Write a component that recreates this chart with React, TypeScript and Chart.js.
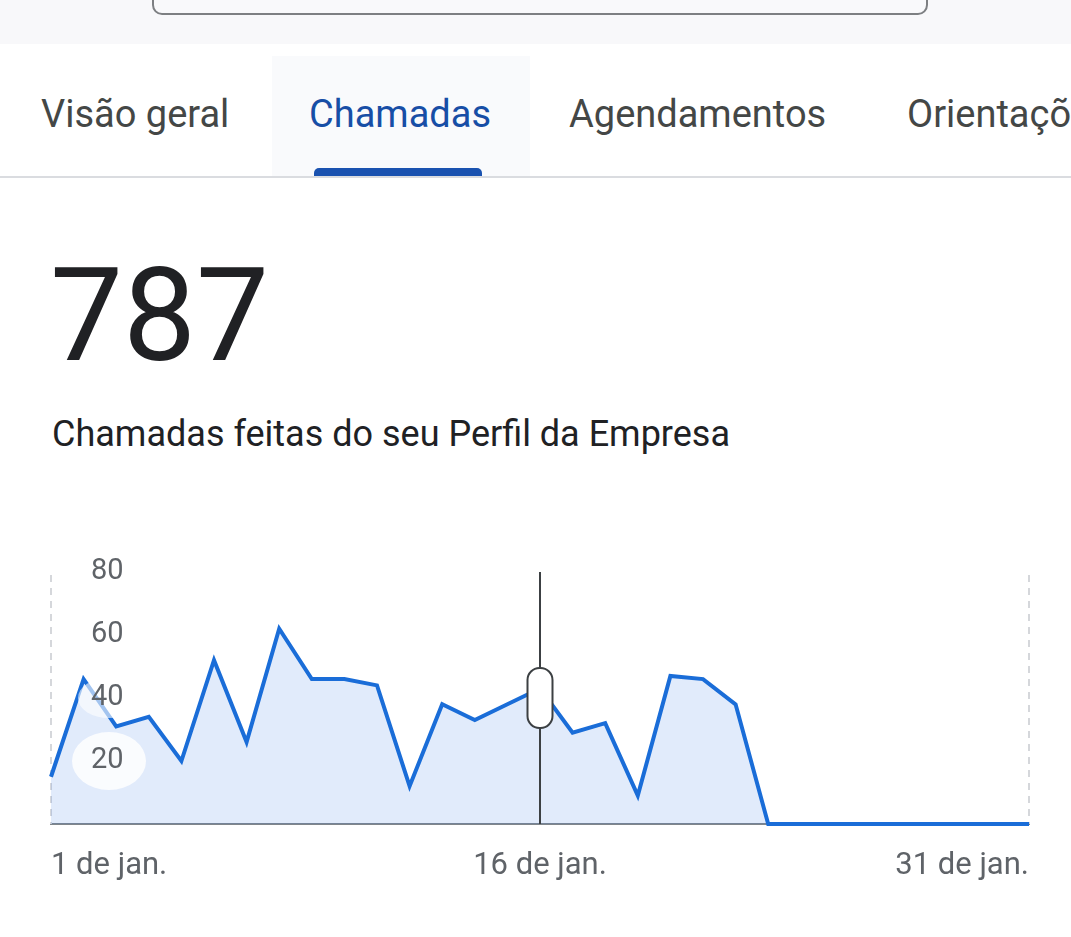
import React, { useEffect, useRef } from 'react';
import { Chart, registerables } from 'chart.js';

Chart.register(...registerables);

const dayLabels = [
  '1 de jan.', '2 de jan.', '3 de jan.', '4 de jan.', '5 de jan.', '6 de jan.', '7 de jan.', '8 de jan.',
  '9 de jan.', '10 de jan.', '11 de jan.', '12 de jan.', '13 de jan.', '14 de jan.', '15 de jan.', '16 de jan.',
  '17 de jan.', '18 de jan.', '19 de jan.', '20 de jan.', '21 de jan.', '22 de jan.', '23 de jan.', '24 de jan.',
  '25 de jan.', '26 de jan.', '27 de jan.', '28 de jan.', '29 de jan.', '30 de jan.', '31 de jan.',
];
const callsPerDay = [15, 46, 31, 34, 20, 52, 26, 62, 46, 46, 44, 12, 38, 33, 38, 43, 29, 32, 9, 47, 46, 38, 0, 0, 0, 0, 0, 0, 0, 0, 0];
const shownXTickIndexes = [0, 15, 30];
const yTickValues = [20, 40, 60, 80];
const yMax = 80;
const selectedIndex = 15;
const totalCalls = '787';
const subtitle = 'Chamadas feitas do seu Perfil da Empresa';
const tabs = ['Visão geral', 'Chamadas', 'Agendamentos', 'Orientações'];

const FONT = 'Roboto, "Noto Sans", sans-serif';

const overlayPlugin = {
  id: 'overlay',
  beforeDatasetsDraw(chart: any) {
    const { ctx, chartArea } = chart;
    const xs = chart.scales.x;
    ctx.save();
    ctx.strokeStyle = '#d5d7db';
    ctx.lineWidth = 2;
    ctx.setLineDash([7, 6]);
    [0, dayLabels.length - 1].forEach((i) => {
      const px = xs.getPixelForValue(i);
      ctx.beginPath();
      ctx.moveTo(px, chartArea.top + 3);
      ctx.lineTo(px, chartArea.bottom);
      ctx.stroke();
    });
    ctx.restore();
  },
  afterDatasetsDraw(chart: any) {
    const { ctx, chartArea } = chart;
    const ys = chart.scales.y;
    ctx.save();
    // soft label halos behind the lower tick labels
    const halo = (value: number, w: number, h: number, alpha: number) => {
      const cy = ys.getPixelForValue(value);
      const cx = chartArea.left + 58;
      ctx.beginPath();
      ctx.ellipse(cx, cy, w / 2, h / 2, 0, 0, Math.PI * 2);
      ctx.fillStyle = `rgba(255,255,255,${alpha})`;
      ctx.fill();
    };
    halo(20, 74, 58, 0.85);
    halo(40, 62, 40, 0.6);

    const px = chart.scales.x.getPixelForValue(selectedIndex);
    ctx.strokeStyle = '#3c4043';
    ctx.lineWidth = 2;
    ctx.beginPath();
    ctx.moveTo(px, chartArea.top);
    ctx.lineTo(px, chartArea.bottom);
    ctx.stroke();
    const w = 25;
    const h = 60;
    const cy = (chartArea.top + chartArea.bottom) / 2;
    ctx.beginPath();
    ctx.roundRect(px - w / 2, cy - h / 2, w, h, 12);
    ctx.fillStyle = '#ffffff';
    ctx.fill();
    ctx.stroke();
    ctx.restore();
  },
};

function CallsChart() {
  const ref = useRef<HTMLCanvasElement | null>(null);
  useEffect(() => {
    if (!ref.current) return;
    const chart = new Chart(ref.current, {
      type: 'line',
      data: {
        labels: dayLabels,
        datasets: [
          {
            data: callsPerDay,
            borderColor: '#1a6dd8',
            borderWidth: 4,
            backgroundColor: 'rgba(40,110,225,0.14)',
            fill: 'origin',
            pointRadius: 0,
            tension: 0,
            clip: 6,
          },
        ],
      },
      options: {
        animation: false,
        responsive: false,
        devicePixelRatio: 1,
        layout: { padding: { left: 51, right: 42, top: 32, bottom: 0 } },
        plugins: { legend: { display: false }, tooltip: { enabled: false } },
        scales: {
          x: {
            type: 'category',
            grid: { display: false },
            border: { display: true, color: '#80868b', width: 2 },
            ticks: {
              autoSkip: false,
              maxRotation: 0,
              minRotation: 0,
              align: 'inner',
              padding: 16,
              color: '#5f6368',
              font: { family: FONT, size: 31 },
              callback: (_v: any, i: number) => (shownXTickIndexes.includes(i) ? dayLabels[i] : ''),
            },
            afterFit: (s: any) => {
              s.height = 76;
              s.paddingLeft = 0;
              s.paddingRight = 0;
            },
          },
          y: {
            min: 0,
            max: yMax,
            grid: { display: false },
            border: { display: false },
            afterBuildTicks: (s: any) => {
              s.ticks = yTickValues.map((v) => ({ value: v }));
            },
            ticks: {
              z: 1,
              mirror: true,
              padding: 40,
              color: '#5f6368',
              font: { family: FONT, size: 29 },
              callback: (v: any) => String(v),
            },
            afterFit: (s: any) => {
              s.width = 0;
              s.paddingTop = 0;
              s.paddingBottom = 0;
            },
          },
        },
      },
      plugins: [overlayPlugin],
    } as any);
    return () => chart.destroy();
  }, []);
  return <canvas ref={ref} width={1071} height={360} style={{ display: 'block', width: 1071, height: 360 }} />;
}

export default function App() {
  const tabLefts = [41, 309, 569, 907];
  return (
    <div
      style={{
        position: 'absolute',
        left: 0,
        top: 0,
        width: 1071,
        height: 937,
        overflow: 'hidden',
        background: '#ffffff',
        fontFamily: FONT,
      }}
    >
      <div style={{ position: 'absolute', left: 0, top: 0, width: 1071, height: 44, background: '#f8f8fa' }} />
      <div
        style={{
          position: 'absolute',
          left: 152,
          top: -30,
          width: 772,
          height: 41,
          border: '2px solid #7d7f82',
          borderRadius: 10,
          background: '#f9f9fb',
        }}
      />
      <div
        style={{ position: 'absolute', left: 272, top: 56, width: 258, height: 120, background: '#f9fafc' }}
      />
      {tabs.map((t, i) => (
        <div
          key={t}
          style={{
            position: 'absolute',
            left: tabLefts[i],
            top: 91,
            fontSize: 38,
            lineHeight: '46px',
            whiteSpace: 'nowrap',
            color: i === 1 ? '#174ea6' : '#444746',
            fontWeight: 400,
          }}
        >
          {t}
        </div>
      ))}
      <div style={{ position: 'absolute', left: 0, top: 176, width: 1071, height: 2, background: '#dadce0' }} />
      <div
        style={{
          position: 'absolute',
          left: 314,
          top: 168,
          width: 168,
          height: 8,
          background: '#1a52b0',
          borderRadius: '5px 5px 0 0',
        }}
      />
      <div
        style={{
          position: 'absolute',
          left: 50,
          top: 246,
          fontSize: 130,
          lineHeight: '140px',
          color: '#202124',
          whiteSpace: 'nowrap',
        }}
      >
        {totalCalls}
      </div>
      <div
        style={{
          position: 'absolute',
          left: 52,
          top: 414,
          fontSize: 36,
          lineHeight: '40px',
          color: '#202124',
          whiteSpace: 'nowrap',
        }}
      >
        {subtitle}
      </div>
      <div style={{ position: 'absolute', left: 0, top: 540 }}>
        <CallsChart />
      </div>
    </div>
  );
}
